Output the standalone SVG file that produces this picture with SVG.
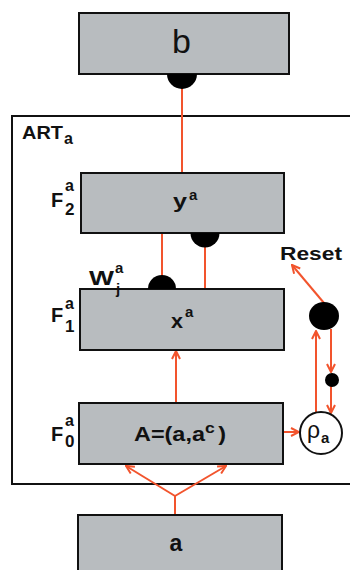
<svg xmlns="http://www.w3.org/2000/svg" width="350" height="570" viewBox="0 0 350 570">
<defs>
<style>
.box{fill:#b8bcbf;stroke:#111;stroke-width:2}
.ln{stroke:#f2542d;stroke-width:2;fill:none}
.t{font-family:"Liberation Sans",Arial,sans-serif;font-weight:bold;fill:#111}
.dot{fill:#000}
</style>
<marker id="ah" viewBox="0 0 10 10" refX="9" refY="5" markerWidth="10" markerHeight="10" markerUnits="userSpaceOnUse" orient="auto">
<path d="M1,1 L9,5 L1,9" fill="none" stroke="#f2542d" stroke-width="2"/>
</marker>
</defs>
<rect width="350" height="570" fill="#fff"/>
<g id="art">
<rect x="12" y="116" width="345" height="368" fill="none" stroke="#111" stroke-width="2"/>
<text class="t" x="22" y="139" font-size="19" textLength="41" lengthAdjust="spacingAndGlyphs">ART</text>
<text class="t" x="64" y="144" font-size="16">a</text>
</g>
<g id="connectors">
<line class="ln" x1="182" y1="86" x2="182" y2="173"/>
<line class="ln" x1="162" y1="234" x2="162" y2="277"/>
<line class="ln" x1="205" y1="246" x2="205" y2="289"/>
<line class="ln" x1="176" y1="403" x2="176" y2="351" marker-end="url(#ah)"/>
<line class="ln" x1="284" y1="432" x2="299" y2="432" marker-end="url(#ah)"/>
<polyline class="ln" points="175,515 175,496"/>
<line class="ln" x1="175" y1="496" x2="126" y2="466" marker-end="url(#ah)"/>
<line class="ln" x1="175" y1="496" x2="226" y2="466" marker-end="url(#ah)"/>
<line class="ln" x1="324" y1="303" x2="292" y2="265" marker-end="url(#ah)"/>
<line class="ln" x1="316" y1="413" x2="316" y2="331" marker-end="url(#ah)"/>
<line class="ln" x1="331" y1="329" x2="331" y2="372" marker-end="url(#ah)"/>
<line class="ln" x1="331" y1="386" x2="331" y2="413" marker-end="url(#ah)"/>
</g>
<g id="b">
<rect class="box" x="79" y="13" width="210" height="61"/>
<path class="dot" d="M167,74 A15,15 0 0 0 197,74 Z"/>
<text x="181.5" y="53" font-family="Liberation Sans,Arial,sans-serif" font-size="34" text-anchor="middle" fill="#111">b</text>
</g>
<g id="F2">
<rect class="box" x="81" y="173" width="203" height="60"/>
<path class="dot" d="M190.5,233 A14.5,14.5 0 0 0 219.5,233 Z"/>
<text class="t" x="173" y="208" font-size="21" textLength="14" lengthAdjust="spacingAndGlyphs">y</text>
<text class="t" x="189" y="200" font-size="15">a</text>
<text class="t" x="51" y="207" font-size="20">F</text>
<text class="t" x="65" y="191" font-size="16">a</text>
<text class="t" x="65" y="215" font-size="17">2</text>
</g>
<g id="F1">
<rect class="box" x="80" y="289" width="204" height="61"/>
<path class="dot" d="M148,289 A14,14 0 0 1 176,289 Z"/>
<text class="t" x="171" y="328" font-size="20" textLength="12" lengthAdjust="spacingAndGlyphs">x</text>
<text class="t" x="185" y="317" font-size="15">a</text>
<text class="t" x="51" y="322" font-size="20">F</text>
<text class="t" x="65" y="309" font-size="16">a</text>
<text class="t" x="65" y="332" font-size="17">1</text>
<text class="t" x="89" y="285" font-size="21" textLength="25" lengthAdjust="spacingAndGlyphs">W</text>
<text class="t" x="115" y="273" font-size="15">a</text>
<text class="t" x="116" y="294" font-size="15">j</text>
</g>
<g id="F0">
<rect class="box" x="79" y="403" width="204" height="61"/>
<text class="t" x="134" y="441" font-size="20" textLength="92" lengthAdjust="spacingAndGlyphs"><tspan>A=(a,a</tspan><tspan font-size="15" dy="-8">c</tspan><tspan dy="8" dx="3">)</tspan></text>
<text class="t" x="51" y="441" font-size="20">F</text>
<text class="t" x="65" y="426" font-size="16">a</text>
<text class="t" x="65" y="447" font-size="17">0</text>
</g>
<g id="rho">
<circle cx="321" cy="433" r="21" fill="#fff" stroke="#111" stroke-width="2"/>
<text x="307" y="438" font-family="Liberation Sans,Arial,sans-serif" font-size="23" fill="#111">ρ</text>
<text class="t" x="321" y="443" font-size="15">a</text>
</g>
<g id="reset">
<ellipse class="dot" cx="324" cy="316" rx="15" ry="14"/>
<circle class="dot" cx="332" cy="380" r="7"/>
<text class="t" x="280" y="260" font-size="18" textLength="62" lengthAdjust="spacingAndGlyphs">Reset</text>
</g>
<g id="a">
<rect class="box" x="78" y="515" width="204" height="70"/>
<text class="t" x="176" y="551" font-size="23" text-anchor="middle">a</text>
</g>
</svg>
